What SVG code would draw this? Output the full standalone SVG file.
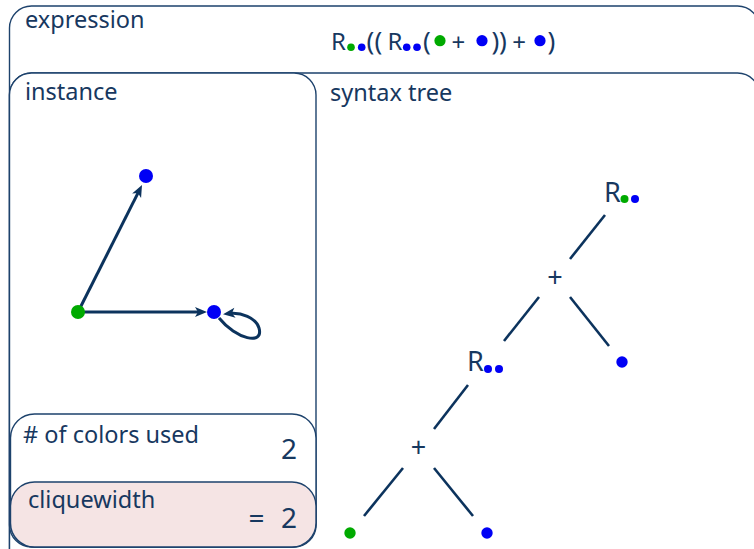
<svg xmlns="http://www.w3.org/2000/svg" width="754" height="549" viewBox="0 0 754 549">
<style>
.box{fill:#ffffff;stroke:#1d426c;stroke-width:1.4}
.cw{fill:#f5e4e4;stroke:#1d426c;stroke-width:1.4}
.lbl{font-family:"Noto Sans","Open Sans",sans-serif;font-size:23.5px;fill:#17385f}
.math{font-family:"Noto Sans","Open Sans",sans-serif;font-size:24px;fill:#17385f}
.par{font-family:"Noto Sans","Open Sans",sans-serif;font-size:26px;fill:#17385f}
.tree{font-family:"Noto Sans","Open Sans",sans-serif;font-size:27px;fill:#17385f}
.num{font-family:"Noto Sans","Open Sans",sans-serif;font-size:28px;fill:#17385f}
.g{fill:#00aa00}
.b{fill:#0000f5}
.edge{stroke:#0c335d;stroke-width:3;fill:none}
.tl{stroke:#0c335d;stroke-width:2.6;fill:none}
</style>
<defs>
<marker id="arr" markerUnits="userSpaceOnUse" markerWidth="14" markerHeight="12" refX="6" refY="5" orient="auto" viewBox="0 0 14 12" overflow="visible">
<path d="M0,0 L12,5 L0,10 L3,5 Z" fill="#0c335d"/>
</marker>
</defs>
<rect width="754" height="549" fill="#ffffff"/>
<g id="expression">
<rect class="box" x="9.5" y="6" width="750" height="570" rx="22"/>
<text class="lbl" x="25" y="28">expression</text>
<g id="formula">
<text class="math" x="331" y="50">R</text>
<circle class="g" cx="351" cy="47.3" r="3.8"/>
<circle class="b" cx="361.7" cy="47.3" r="3.8"/>
<text class="par" x="370.5" y="50" text-anchor="middle">(</text>
<text class="par" x="378.5" y="50" text-anchor="middle">(</text>
<text class="math" x="387.5" y="50">R</text>
<circle class="b" cx="406.7" cy="47.3" r="3.8"/>
<circle class="b" cx="417" cy="47.3" r="3.8"/>
<text class="par" x="427" y="50" text-anchor="middle">(</text>
<circle class="g" cx="440" cy="40.7" r="5.6"/>
<text class="math" x="458.3" y="50.5" text-anchor="middle">+</text>
<circle class="b" cx="482" cy="40.7" r="5.6"/>
<text class="par" x="495.5" y="50" text-anchor="middle">)</text>
<text class="par" x="503" y="50" text-anchor="middle">)</text>
<text class="math" x="519" y="50.5" text-anchor="middle">+</text>
<circle class="b" cx="540" cy="40.7" r="5.6"/>
<text class="par" x="551.5" y="50" text-anchor="middle">)</text>
</g>
</g>
<g id="syntax-tree">
<rect class="box" x="9.5" y="73" width="750" height="500" rx="22"/>
<text class="lbl" x="330" y="101">syntax tree</text>
</g>
<g id="instance">
<rect class="box" x="9.5" y="73" width="306.5" height="474" rx="22"/>
<text class="lbl" x="25" y="100">instance</text>
</g>
<g id="colors-used">
<rect class="box" x="10.5" y="414" width="305.5" height="133" rx="24"/>
<text class="lbl" x="23" y="443"># of colors used</text>
<text class="num" x="297" y="459" text-anchor="end">2</text>
</g>
<g id="cliquewidth">
<rect class="cw" x="10.5" y="482" width="305.5" height="65" rx="24"/>
<text class="lbl" x="28" y="508">cliquewidth</text>
<text class="num" x="256.5" y="528" text-anchor="middle">=</text>
<text class="num" x="297" y="528" text-anchor="end">2</text>
</g>
<g id="connectors">
<line class="edge" x1="78" y1="312" x2="139.3" y2="190.4" marker-end="url(#arr)"/>
<line class="edge" x1="78" y1="312" x2="201" y2="312" marker-end="url(#arr)"/>
<path class="edge" d="M219,318 C236,339 264,346 259,328 C256,318 241,312 229,313.5" marker-end="url(#arr)"/>
<line class="tl" x1="605" y1="215" x2="570" y2="259"/>
<line class="tl" x1="539" y1="297" x2="504" y2="341"/>
<line class="tl" x1="570" y1="297" x2="609" y2="346"/>
<line class="tl" x1="468" y1="385" x2="434" y2="429"/>
<line class="tl" x1="403" y1="468" x2="364" y2="516"/>
<line class="tl" x1="434" y1="468" x2="473" y2="516"/>
</g>
<g id="graph-nodes">
<circle class="b" cx="146" cy="176" r="7"/>
<circle class="g" cx="78" cy="312" r="7"/>
<circle class="b" cx="214" cy="312" r="7"/>
</g>
<g id="tree-nodes">
<g id="t-root">
<text class="tree" x="604" y="202">R</text>
<circle class="g" cx="624.5" cy="199" r="4"/>
<circle class="b" cx="635" cy="199" r="4"/>
</g>
<g id="t-plus1"><text class="tree" x="555" y="286.5" text-anchor="middle">+</text></g>
<g id="t-leaf1"><circle class="b" cx="622" cy="362" r="5.7"/></g>
<g id="t-r2">
<text class="tree" x="467" y="371">R</text>
<circle class="b" cx="488" cy="369" r="4"/>
<circle class="b" cx="499" cy="369" r="4"/>
</g>
<g id="t-plus2"><text class="tree" x="418.5" y="456.5" text-anchor="middle">+</text></g>
<g id="t-leaf2"><circle class="g" cx="350" cy="533" r="5.7"/></g>
<g id="t-leaf3"><circle class="b" cx="487" cy="533" r="5.7"/></g>
</g>
</svg>
